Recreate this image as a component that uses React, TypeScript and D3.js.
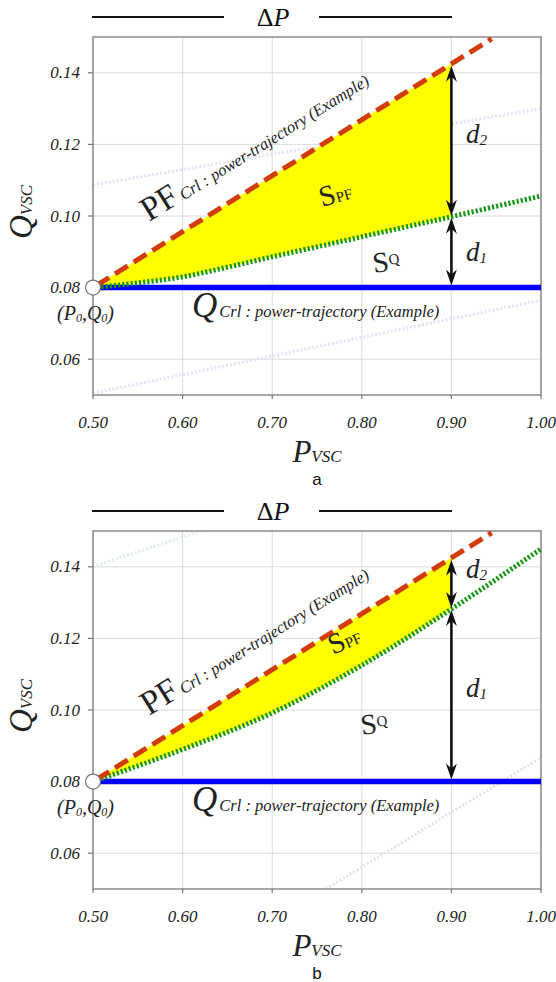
import React from "react";
import * as d3 from "d3";

// ---------- data ----------
const P_TICKS = [0.5, 0.6, 0.7, 0.8, 0.9, 1.0];
const Q_TICKS = [0.06, 0.08, 0.1, 0.12, 0.14];
const P_DOMAIN = [0.5, 1.0];
const Q_DOMAIN = [0.05, 0.15];

const QCRL_P = [0.5, 1.0];
const QCRL_Q = [0.08, 0.08];

const PF_P = [0.5, 0.9, 0.945];
const PF_Q = [0.08, 0.1425, 0.1495];

const GREEN_A_P = [0.5, 0.55, 0.6, 0.65, 0.7, 0.75, 0.8, 0.85, 0.9, 0.95, 1.0];
const GREEN_A_Q = [0.08, 0.0813, 0.083, 0.0857, 0.0886, 0.0914, 0.0942, 0.097, 0.0998, 0.1027, 0.1056];

const GREEN_B_P = [0.5, 0.6, 0.7, 0.8, 0.9, 1.0];
const GREEN_B_Q = [0.08, 0.089, 0.0992, 0.1125, 0.1282, 0.145];

const FAINT_A1_P = [0.5, 1.0];
const FAINT_A1_Q = [0.1087, 0.13];
const FAINT_A2_P = [0.5, 1.0];
const FAINT_A2_Q = [0.0505, 0.0765];
const FAINT_B1_P = [0.5, 0.62];
const FAINT_B1_Q = [0.14, 0.15];
const FAINT_B2_P = [0.76, 1.0];
const FAINT_B2_Q = [0.05, 0.0867];

const ORIGIN = [0.5, 0.08];
const D_P = 0.9;
const FILL_END_P = 0.9;

// ---------- layout ----------
const W = 556;
const H = 982;
const LEFT = 93;
const RIGHT = 541;
const PLOT_H = 358;
const SERIF = "'Liberation Serif', 'DejaVu Serif', serif";
const SANS = "'Liberation Sans', Arial, sans-serif";

type Faint = { p: number[]; q: number[]; color: string };

type PanelProps = {
  id: string;
  top: number;
  greenP: number[];
  greenQ: number[];
  faint: Faint[];
  letter: string;
  d2: [number, number];
  d1: [number, number];
  spf: [number, number, number];
  sq: [number, number, number];
};

function zip(p: number[], q: number[]): [number, number][] {
  return p.map((v, i) => [v, q[i]] as [number, number]);
}

function arrowHead(x: number, yTip: number, dir: number) {
  // dir = -1 head points up, +1 head points down
  const len = 16;
  const hw = 5.5;
  const yb = yTip - dir * len;
  const yn = yTip - dir * (len - 5);
  return `M${x},${yTip} L${x - hw},${yb} L${x},${yn} L${x + hw},${yb} Z`;
}

function Panel(props: PanelProps) {
  const { id, top, greenP, greenQ, faint, letter } = props;
  const bottom = top + PLOT_H;
  const x = d3.scaleLinear().domain(P_DOMAIN).range([LEFT, RIGHT]);
  const y = d3.scaleLinear().domain(Q_DOMAIN).range([bottom, top]);
  const pf = d3.scaleLinear().domain(PF_P).range(PF_Q);
  const green = d3.scaleLinear().domain(greenP).range(greenQ);

  const line = d3
    .line<[number, number]>()
    .x((d) => x(d[0]))
    .y((d) => y(d[1]));
  const curve = d3
    .line<[number, number]>()
    .x((d) => x(d[0]))
    .y((d) => y(d[1]))
    .curve(d3.curveMonotoneX);

  const fillPts = greenP.filter((p) => p <= FILL_END_P);
  const area = d3
    .area<number>()
    .x((p) => x(p))
    .y0((p) => y(green(p)))
    .y1((p) => y(pf(p)))
    .curve(d3.curveMonotoneX);

  const xd = x(D_P);
  const yRed = y(pf(D_P));
  const yGreen = y(green(D_P));
  const yBlue = y(QCRL_Q[0]);

  const angle = (Math.atan2(y(pf(0.9)) - y(pf(0.5)), x(0.9) - x(0.5)) * 180) / Math.PI;

  return (
    <g>
      <defs>
        <clipPath id={`clip-${id}`}>
          <rect x={LEFT} y={top} width={RIGHT - LEFT} height={PLOT_H} />
        </clipPath>
      </defs>
      {/* Delta P header */}
      <line x1={92} x2={224} y1={top - 20} y2={top - 20} stroke="#111" strokeWidth={2.2} />
      <line x1={319} x2={452} y1={top - 20} y2={top - 20} stroke="#111" strokeWidth={2.2} />
      <text x={273} y={top - 11} textAnchor="middle" fontFamily={SERIF} fontSize={26} fill="#111">
        Δ<tspan fontStyle="italic">P</tspan>
      </text>

      {/* grid */}
      {P_TICKS.map((p) => (
        <line key={`gx${p}`} x1={x(p)} x2={x(p)} y1={top} y2={bottom} stroke="#dadada" strokeWidth={1} />
      ))}
      {Q_TICKS.map((q) => (
        <line key={`gy${q}`} x1={LEFT} x2={RIGHT} y1={y(q)} y2={y(q)} stroke="#dadada" strokeWidth={1} />
      ))}

      {/* faint dotted guide lines */}
      <g clipPath={`url(#clip-${id})`}>
        {faint.map((f, i) => (
          <path
            key={i}
            d={line(zip(f.p, f.q)) || ""}
            fill="none"
            stroke={f.color}
            strokeWidth={3}
            strokeDasharray="2 2"
          />
        ))}
      </g>

      {/* frame */}
      <rect x={LEFT} y={top} width={RIGHT - LEFT} height={PLOT_H} fill="none" stroke="#8a8a8a" strokeWidth={1.5} />

      {/* ticks */}
      {P_TICKS.map((p) => (
        <g key={`tx${p}`}>
          <line x1={x(p)} x2={x(p)} y1={bottom} y2={bottom + 4} stroke="#777" strokeWidth={1.2} />
          <text x={x(p)} y={bottom + 33} textAnchor="middle" fontFamily={SERIF} fontStyle="italic" fontSize={17} fill="#222">
            {p.toFixed(2)}
          </text>
        </g>
      ))}
      {Q_TICKS.map((q) => (
        <g key={`ty${q}`}>
          <line x1={LEFT - 5} x2={LEFT} y1={y(q)} y2={y(q)} stroke="#777" strokeWidth={1.2} />
          <text x={80} y={y(q) + 5.5} textAnchor="end" fontFamily={SERIF} fontStyle="italic" fontSize={17} fill="#222">
            {q.toFixed(2)}
          </text>
        </g>
      ))}

      {/* series */}
      <g clipPath={`url(#clip-${id})`}>
        <path d={area(fillPts) || ""} fill="#ffff00" stroke="none" />
        <path d={line(zip(QCRL_P, QCRL_Q)) || ""} fill="none" stroke="#0000ff" strokeWidth={5.5} />
        <path
          d={curve(zip(greenP, greenQ)) || ""}
          fill="none"
          stroke="#179617"
          strokeWidth={5}
          strokeDasharray="2.2 2"
        />
        <path
          d={line(zip(PF_P, PF_Q)) || ""}
          fill="none"
          stroke="#d23c0a"
          strokeWidth={5}
          strokeDasharray="15 7"
          strokeDashoffset={-4}
        />
      </g>

      {/* arrows */}
      <line x1={xd} x2={xd} y1={yRed + 10} y2={yGreen - 10} stroke="#111" strokeWidth={2.6} />
      <path d={arrowHead(xd, yRed + 2, -1)} fill="#111" />
      <path d={arrowHead(xd, yGreen - 1, 1)} fill="#111" />
      <line x1={xd} x2={xd} y1={yGreen + 10} y2={yBlue - 10} stroke="#111" strokeWidth={2.6} />
      <path d={arrowHead(xd, yGreen + 1, -1)} fill="#111" />
      <path d={arrowHead(xd, yBlue - 2, 1)} fill="#111" />

      {/* origin marker */}
      <circle cx={x(ORIGIN[0])} cy={y(ORIGIN[1])} r={7.5} fill="#fff" stroke="#777" strokeWidth={1.2} />

      {/* labels */}
      <text x={props.d2[0]} y={props.d2[1]} fontFamily={SERIF} fontStyle="italic" fontSize={27} fill="#222">
        d<tspan fontSize={15} dy={2}>2</tspan>
      </text>
      <text x={props.d1[0]} y={props.d1[1]} fontFamily={SERIF} fontStyle="italic" fontSize={27} fill="#222">
        d<tspan fontSize={15} dy={2}>1</tspan>
      </text>
      <text
        transform={`translate(${props.spf[0]},${props.spf[1]}) rotate(${props.spf[2]})`}
        fontFamily={SERIF}
        fontSize={29}
        fill="#222"
      >
        S<tspan fontSize={15}>PF</tspan>
      </text>
      <text
        transform={`translate(${props.sq[0]},${props.sq[1]}) rotate(${props.sq[2]})`}
        fontFamily={SERIF}
        fontSize={29}
        fill="#222"
      >
        S<tspan fontSize={15} dy={-6}>Q</tspan>
      </text>

      <text
        transform={`translate(${149},${top + 185}) rotate(${angle})`}
        fontFamily={SERIF}
        fill="#222"
      >
        <tspan fontSize={34}>PF</tspan>
        <tspan fontSize={16.5} fontStyle="italic" dx={3}>Crl : power-trajectory (Example)</tspan>
      </text>
      <text x={192} y={top + 280} fontFamily={SERIF} fill="#222">
        <tspan fontSize={35} fontStyle="italic">Q</tspan>
        <tspan fontSize={16.5} fontStyle="italic" dx={2}>Crl : power-trajectory (Example)</tspan>
      </text>
      <text x={57} y={top + 283} fontFamily={SERIF} fontStyle="italic" fontSize={20} fill="#222">
        (P<tspan fontSize={12} dy={2}>0</tspan>
        <tspan dy={-2}>,Q</tspan>
        <tspan fontSize={12} dy={2}>0</tspan>
        <tspan dy={-2}>)</tspan>
      </text>

      {/* axis titles */}
      <text x={317} y={bottom + 67} textAnchor="middle" fontFamily={SERIF} fontStyle="italic" fill="#222">
        <tspan fontSize={31}>P</tspan>
        <tspan fontSize={17}>VSC</tspan>
      </text>
      <text
        transform={`translate(32,${top + PLOT_H / 2 - 4}) rotate(-90)`}
        textAnchor="middle"
        fontFamily={SERIF}
        fontStyle="italic"
        fill="#222"
      >
        <tspan fontSize={33}>Q</tspan>
        <tspan fontSize={17}>VSC</tspan>
      </text>
      <text x={317} y={bottom + 90} textAnchor="middle" fontFamily={SANS} fontSize={17} fill="#111">
        {letter}
      </text>
    </g>
  );
}

export default function App() {
  return (
    <svg width={W} height={H} viewBox={`0 0 ${W} ${H}`} style={{ display: "block", position: "absolute", left: 0, top: 0, background: "#fff" }}>
      <rect x={0} y={0} width={W} height={H} fill="#fff" />
      <Panel
        id="a"
        top={37}
        greenP={GREEN_A_P}
        greenQ={GREEN_A_Q}
        faint={[
          { p: FAINT_A1_P, q: FAINT_A1_Q, color: "#e2e2f2" },
          { p: FAINT_A2_P, q: FAINT_A2_Q, color: "#e2e2f2" },
        ]}
        letter="a"
        d2={[466, 143]}
        d1={[466, 261]}
        spf={[322, 207, -16]}
        sq={[374, 273, -8]}
      />
      <Panel
        id="b"
        top={531}
        greenP={GREEN_B_P}
        greenQ={GREEN_B_Q}
        faint={[
          { p: FAINT_B1_P, q: FAINT_B1_Q, color: "#e0efe0" },
          { p: FAINT_B2_P, q: FAINT_B2_Q, color: "#e4e4e4" },
        ]}
        letter="b"
        d2={[466, 578]}
        d1={[466, 697]}
        spf={[333, 655, -24]}
        sq={[362, 735, -8]}
      />
    </svg>
  );
}
